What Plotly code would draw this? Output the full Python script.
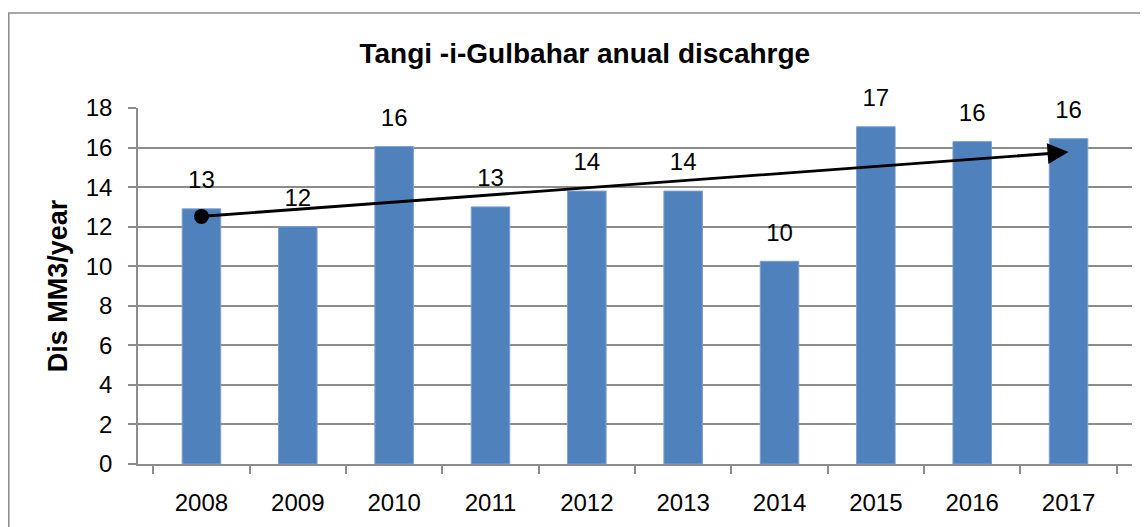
import plotly.graph_objects as go

years = ["2008", "2009", "2010", "2011", "2012", "2013", "2014", "2015", "2016", "2017"]
discharge = [12.9, 12.0, 16.05, 13.0, 13.8, 13.8, 10.25, 17.05, 16.3, 16.45]
labels = ["13", "12", "16", "13", "14", "14", "10", "17", "16", "16"]
trend_start = ("2008", 12.52)
trend_end = ("2017", 15.77)
y_ticks = [0, 2, 4, 6, 8, 10, 12, 14, 16, 18]

FONT = "Liberation Sans"
BAR = "#4F81BD"
GRID = "#8C8C8C"

fig = go.Figure()
fig.add_trace(go.Bar(
    x=years, y=discharge, width=0.4,
    marker=dict(color=BAR, line=dict(color="#7EA0CE", width=1)),
    hoverinfo="x+y",
))
# data labels above bars
fig.add_trace(go.Scatter(
    x=years, y=discharge, mode="markers+text", text=labels,
    textposition="top center", cliponaxis=False,
    marker=dict(size=22, opacity=0),
    textfont=dict(family=FONT, size=24, color="black"),
    hoverinfo="skip", showlegend=False,
))
# trend start dot
fig.add_trace(go.Scatter(
    x=[trend_start[0]], y=[trend_start[1]], mode="markers", cliponaxis=False,
    marker=dict(size=15, color="black"), hoverinfo="skip", showlegend=False,
))

fig.add_annotation(
    x=years.index(trend_end[0]), y=trend_end[1], xref="x", yref="y",
    ax=years.index(trend_start[0]), ay=trend_start[1], axref="x", ayref="y",
    text="", showarrow=True, arrowhead=2, arrowsize=1.5, arrowwidth=2.8,
    arrowcolor="black",
)

# outer chart border
fig.add_shape(type="rect", xref="paper", yref="paper",
              x0=-0.1300, x1=1.06, y0=-0.25, y1=1.2669,
              line=dict(color="#8A8A8A", width=1.5), fillcolor="rgba(0,0,0,0)",
              layer="below")

fig.update_layout(
    width=1140, height=519,
    margin=dict(l=130, r=16, t=100, b=63),
    paper_bgcolor="white", plot_bgcolor="white",
    showlegend=False,
    title=dict(text="<b>Tangi -i-Gulbahar anual discahrge</b>",
               x=0.506, xanchor="center", y=1 - 45 / 519, yanchor="middle",
               font=dict(family=FONT, size=28, color="black")),
    font=dict(family=FONT, color="black"),
    bargap=0.6,
)
fig.update_xaxes(
    type="category", showline=True, linecolor=GRID, linewidth=1.5,
    ticks="outside", ticklen=8, tickcolor=GRID, tickwidth=1.5,
    tickson="boundaries", showgrid=False,
    tickfont=dict(family=FONT, size=24, color="black"),
    ticklabelstandoff=16,
)
fig.update_yaxes(
    range=[0, 18], tickvals=y_ticks, showline=True, linecolor=GRID, linewidth=1.5,
    ticks="outside", ticklen=8, tickcolor=GRID, tickwidth=1.5,
    showgrid=True, gridcolor=GRID, gridwidth=1.5, zeroline=False,
    tickfont=dict(family=FONT, size=24, color="black"),
    ticklabelstandoff=11,
    title=dict(text="<b>Dis MM3/year</b>", standoff=10,
               font=dict(family=FONT, size=27, color="black")),
)

fig.write_html("out.html")
